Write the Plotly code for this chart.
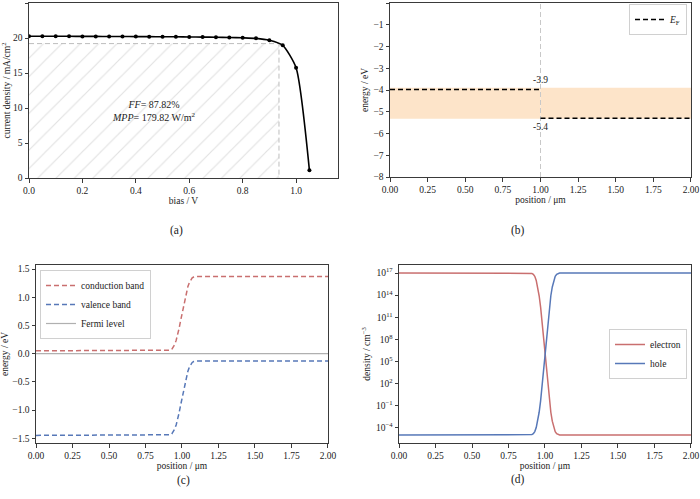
import plotly.graph_objects as go

FONT = "Liberation Serif"

# ---------- (a) J-V curve ----------
bias_v = [0.00, 0.05, 0.10, 0.15, 0.20, 0.25, 0.30, 0.35, 0.40, 0.45, 0.50,
          0.55, 0.60, 0.65, 0.70, 0.75, 0.80, 0.85, 0.90, 0.95, 1.00, 1.05]
current_density = [20.25, 20.25, 20.24, 20.24, 20.23, 20.23, 20.22, 20.21, 20.20, 20.19, 20.18,
                   20.17, 20.15, 20.13, 20.11, 20.08, 20.03, 19.95, 19.68, 18.95, 15.76, 1.10]
v_mpp = 0.936
j_mpp = 19.20
ff_text = "87.82%"
mpp_text = "179.82"

# ---------- (b) band alignment ----------
mat_x_start = [0.0, 1.0]
mat_x_end = [1.0, 2.0]
mat_cb = [-3.9, -3.9]
mat_vb = [-5.32, -5.32]
mat_ef = [-3.98, -5.30]
cb_label = "-3.9"
vb_label = "-5.4"
interface_x = 1.0

# ---------- (c) band diagram ----------
pos_c = [0.00, 0.90, 0.91, 0.92, 0.93, 0.94, 0.95, 0.96, 0.97, 0.98, 0.99, 1.00,
         1.01, 1.02, 1.03, 1.04, 1.05, 1.06, 1.07, 1.08, 1.09, 1.10, 2.00]
conduction_band = [0.05, 0.05, 0.053, 0.061, 0.076, 0.109, 0.162, 0.235, 0.327, 0.446, 0.578, 0.71,
                   0.842, 0.974, 1.093, 1.185, 1.258, 1.311, 1.344, 1.359, 1.367, 1.37, 1.37]
valence_band = [-1.45, -1.45, -1.447, -1.439, -1.424, -1.391, -1.338, -1.265, -1.173, -1.054, -0.922, -0.79,
                -0.658, -0.526, -0.407, -0.315, -0.242, -0.189, -0.156, -0.141, -0.133, -0.13, -0.13]
fermi_x = [0.0, 2.0]
fermi_level = [0.0, 0.0]

# ---------- (d) carrier densities ----------
pos_d = [0.00, 0.90, 0.91, 0.92, 0.93, 0.94, 0.95, 0.96, 0.97, 0.98, 0.99, 1.00,
         1.01, 1.02, 1.03, 1.04, 1.05, 1.06, 1.07, 1.08, 1.09, 1.10, 2.00]
electron = [1e17, 1e17, 9.1e16, 6.6e16, 3.6e16, 1.0e16, 1.3e15, 8.3e13, 2.4e12, 2.5e10, 1.6e8, 1e6,
            6.3e3, 4.0e1, 4.2e-1, 1.2e-2, 7.4e-4, 9.8e-5, 2.8e-5, 1.5e-5, 1.1e-5, 1e-5, 1e-5]
hole = [1e-5, 1e-5, 1.1e-5, 1.5e-5, 2.8e-5, 9.8e-5, 7.4e-4, 1.2e-2, 4.2e-1, 4.0e1, 6.3e3, 1e6,
        1.6e8, 2.5e10, 2.4e12, 8.3e13, 1.3e15, 1.0e16, 3.6e16, 6.6e16, 9.1e16, 1e17, 1e17]
log_tick_vals = [1e-4, 1e-1, 1e2, 1e5, 1e8, 1e11, 1e14, 1e17]
log_tick_text = ["10<sup>−4</sup>", "10<sup>−1</sup>", "10<sup>2</sup>", "10<sup>5</sup>",
                 "10<sup>8</sup>", "10<sup>11</sup>", "10<sup>14</sup>", "10<sup>17</sup>"]

RED = "#c96f6f"
BLUE = "#5778b8"

fig = go.Figure()

# (a)
fig.add_trace(go.Scatter(
    x=[0, v_mpp, v_mpp, 0, 0], y=[0, 0, j_mpp, j_mpp, 0],
    fill="toself", mode="none", fillcolor="rgba(0,0,0,0)",
    fillpattern=dict(shape="/", fgcolor="#c4c4c4", bgcolor="white", size=13, solidity=0.09),
    xaxis="x", yaxis="y", showlegend=False, hoverinfo="skip"))
fig.add_trace(go.Scatter(
    x=[0, v_mpp, v_mpp], y=[j_mpp, j_mpp, 0], mode="lines",
    line=dict(color="#bdbdbd", width=1, dash="5px,3px"),
    xaxis="x", yaxis="y", showlegend=False))
fig.add_trace(go.Scatter(
    x=bias_v, y=current_density, mode="lines+markers",
    line=dict(color="black", width=1.6, shape="spline", smoothing=0.6),
    marker=dict(color="black", size=4),
    xaxis="x", yaxis="y", showlegend=False))

# (b)
for i in range(len(mat_cb)):
    fig.add_trace(go.Scatter(
        x=[mat_x_start[i], mat_x_end[i], mat_x_end[i], mat_x_start[i], mat_x_start[i]],
        y=[mat_cb[i], mat_cb[i], mat_vb[i], mat_vb[i], mat_cb[i]],
        fill="toself", mode="none", fillcolor="#fde4c9",
        xaxis="x2", yaxis="y2", showlegend=False, hoverinfo="skip"))
fig.add_trace(go.Scatter(
    x=[interface_x, interface_x], y=[-8, 0], mode="lines",
    line=dict(color="#c8c8c8", width=1, dash="5px,3px"),
    xaxis="x2", yaxis="y2", showlegend=False))
for i in range(len(mat_ef)):
    fig.add_trace(go.Scatter(
        x=[mat_x_start[i], mat_x_end[i]], y=[mat_ef[i], mat_ef[i]], mode="lines",
        line=dict(color="black", width=1.6, dash="5px,3px"),
        name="<i>E</i><sub>F</sub>", legend="legend2", showlegend=(i == 0),
        xaxis="x2", yaxis="y2"))

# (c)
fig.add_trace(go.Scatter(
    x=pos_c, y=conduction_band, mode="lines", name="conduction band",
    line=dict(color=RED, width=1.5, dash="5px,3px"),
    xaxis="x3", yaxis="y3", legend="legend"))
fig.add_trace(go.Scatter(
    x=pos_c, y=valence_band, mode="lines", name="valence band",
    line=dict(color=BLUE, width=1.5, dash="5px,3px"),
    xaxis="x3", yaxis="y3", legend="legend"))
fig.add_trace(go.Scatter(
    x=fermi_x, y=fermi_level, mode="lines", name="Fermi level",
    line=dict(color="#b0b0b0", width=1.2),
    xaxis="x3", yaxis="y3", legend="legend"))

# (d)
fig.add_trace(go.Scatter(
    x=pos_d, y=electron, mode="lines", name="electron",
    line=dict(color=RED, width=1.5),
    xaxis="x4", yaxis="y4", legend="legend3"))
fig.add_trace(go.Scatter(
    x=pos_d, y=hole, mode="lines", name="hole",
    line=dict(color=BLUE, width=1.5),
    xaxis="x4", yaxis="y4", legend="legend3"))

W, H = 700, 499


def px(x):
    return x / W


def py(y):
    return 1 - y / H


ax_common = dict(
    showline=True, mirror=True, linecolor="#3a3a3a", linewidth=1,
    ticks="outside", ticklen=3.5, tickwidth=0.8, tickcolor="#3a3a3a",
    showgrid=False, zeroline=False, automargin=False,
    tickfont=dict(family=FONT, size=9.5, color="#222"),
    title_font=dict(family=FONT, size=9.5, color="#222"),
)

fig.update_layout(
    width=W, height=H, margin=dict(l=0, r=0, t=0, b=0),
    paper_bgcolor="white", plot_bgcolor="white",
    font=dict(family=FONT, size=9.5, color="#222"),
    xaxis=dict(ax_common, domain=[px(29), px(338)], anchor="y", range=[0, 1.157],
               tickvals=[0, 0.2, 0.4, 0.6, 0.8, 1.0], tickformat=".1f",
               title=dict(text="bias / V", standoff=0)),
    yaxis=dict(ax_common, domain=[py(178), py(3)], anchor="x", range=[0, 25.0001],
               tickvals=[0, 5, 10, 15, 20, 25],
               title=dict(text="current density / mA/cm<sup>2</sup>", standoff=3)),
    xaxis2=dict(ax_common, domain=[px(390), px(691)], anchor="y2", range=[0, 2.0001],
                tickvals=[0, 0.25, 0.5, 0.75, 1.0, 1.25, 1.5, 1.75, 2.0], tickformat=".2f",
                title=dict(text="position / μm", standoff=0)),
    yaxis2=dict(ax_common, domain=[py(177), py(3)], anchor="x2", range=[-8.0001, 0.0001],
                tickvals=[-8, -7, -6, -5, -4, -3, -2, -1, 0],
                title=dict(text="energy / eV", standoff=3)),
    xaxis3=dict(ax_common, domain=[px(36), px(328)], anchor="y3", range=[0, 2.0001],
                tickvals=[0, 0.25, 0.5, 0.75, 1.0, 1.25, 1.5, 1.75, 2.0], tickformat=".2f",
                title=dict(text="position / μm", standoff=0)),
    yaxis3=dict(ax_common, domain=[py(443), py(265)], anchor="x3", range=[-1.585, 1.572],
                tickvals=[-1.5, -1.0, -0.5, 0.0, 0.5, 1.0, 1.5], tickformat=".1f",
                title=dict(text="energy / eV", standoff=3)),
    xaxis4=dict(ax_common, domain=[px(399), px(691)], anchor="y4", range=[0, 2.0001],
                tickvals=[0, 0.25, 0.5, 0.75, 1.0, 1.25, 1.5, 1.75, 2.0], tickformat=".2f",
                title=dict(text="position / μm", standoff=0)),
    yaxis4=dict(ax_common, domain=[py(443), py(265)], anchor="x4", type="log", range=[-6.1, 18.1],
                tickvals=log_tick_vals, ticktext=log_tick_text,
                title=dict(text="density / cm<sup>−3</sup>", standoff=3)),
    legend=dict(x=px(40), y=py(270), xanchor="left", yanchor="top",
                bgcolor="white", bordercolor="#d0d0d0", borderwidth=1,
                font=dict(family=FONT, size=9.5, color="#222"), itemwidth=30,
                tracegroupgap=0),
    legend2=dict(x=px(687), y=py(4), xanchor="right", yanchor="top",
                 bgcolor="white", bordercolor="#d0d0d0", borderwidth=1,
                 font=dict(family=FONT, size=9.5, color="#222"), itemwidth=30),
    legend3=dict(x=px(687), y=py(354), xanchor="right", yanchor="middle",
                 bgcolor="white", bordercolor="#d0d0d0", borderwidth=1,
                 font=dict(family=FONT, size=9.5, color="#222"), itemwidth=30),
)

annotations = [
    dict(x=v_mpp / 2, y=j_mpp / 2, xref="x", yref="y",
         text="<i>FF</i>= %s<br><i>MPP</i>= %s W/m<sup>2</sup>" % (ff_text, mpp_text),
         showarrow=False, font=dict(family=FONT, size=10, color="#222"), align="center"),
    dict(x=interface_x, y=mat_cb[1], xref="x2", yref="y2", text=cb_label, showarrow=False,
         yanchor="bottom", yshift=1, font=dict(family=FONT, size=9.5, color="#222")),
    dict(x=interface_x, y=mat_ef[1], xref="x2", yref="y2", text=vb_label, showarrow=False,
         yanchor="top", yshift=-2, font=dict(family=FONT, size=9.5, color="#222")),
]
for lab, xx, yy in [("(a)", 168, 230), ("(b)", 527, 230), ("(c)", 175, 489), ("(d)", 527, 488)]:
    annotations.append(dict(x=px(xx), y=py(yy), xref="paper", yref="paper", text=lab,
                            showarrow=False, font=dict(family=FONT, size=11.5, color="#222")))
fig.update_layout(annotations=annotations)

fig.write_html("out.html", config={"displayModeBar": False},
               post_script="document.body.style.margin='0';document.body.style.padding='0';")
